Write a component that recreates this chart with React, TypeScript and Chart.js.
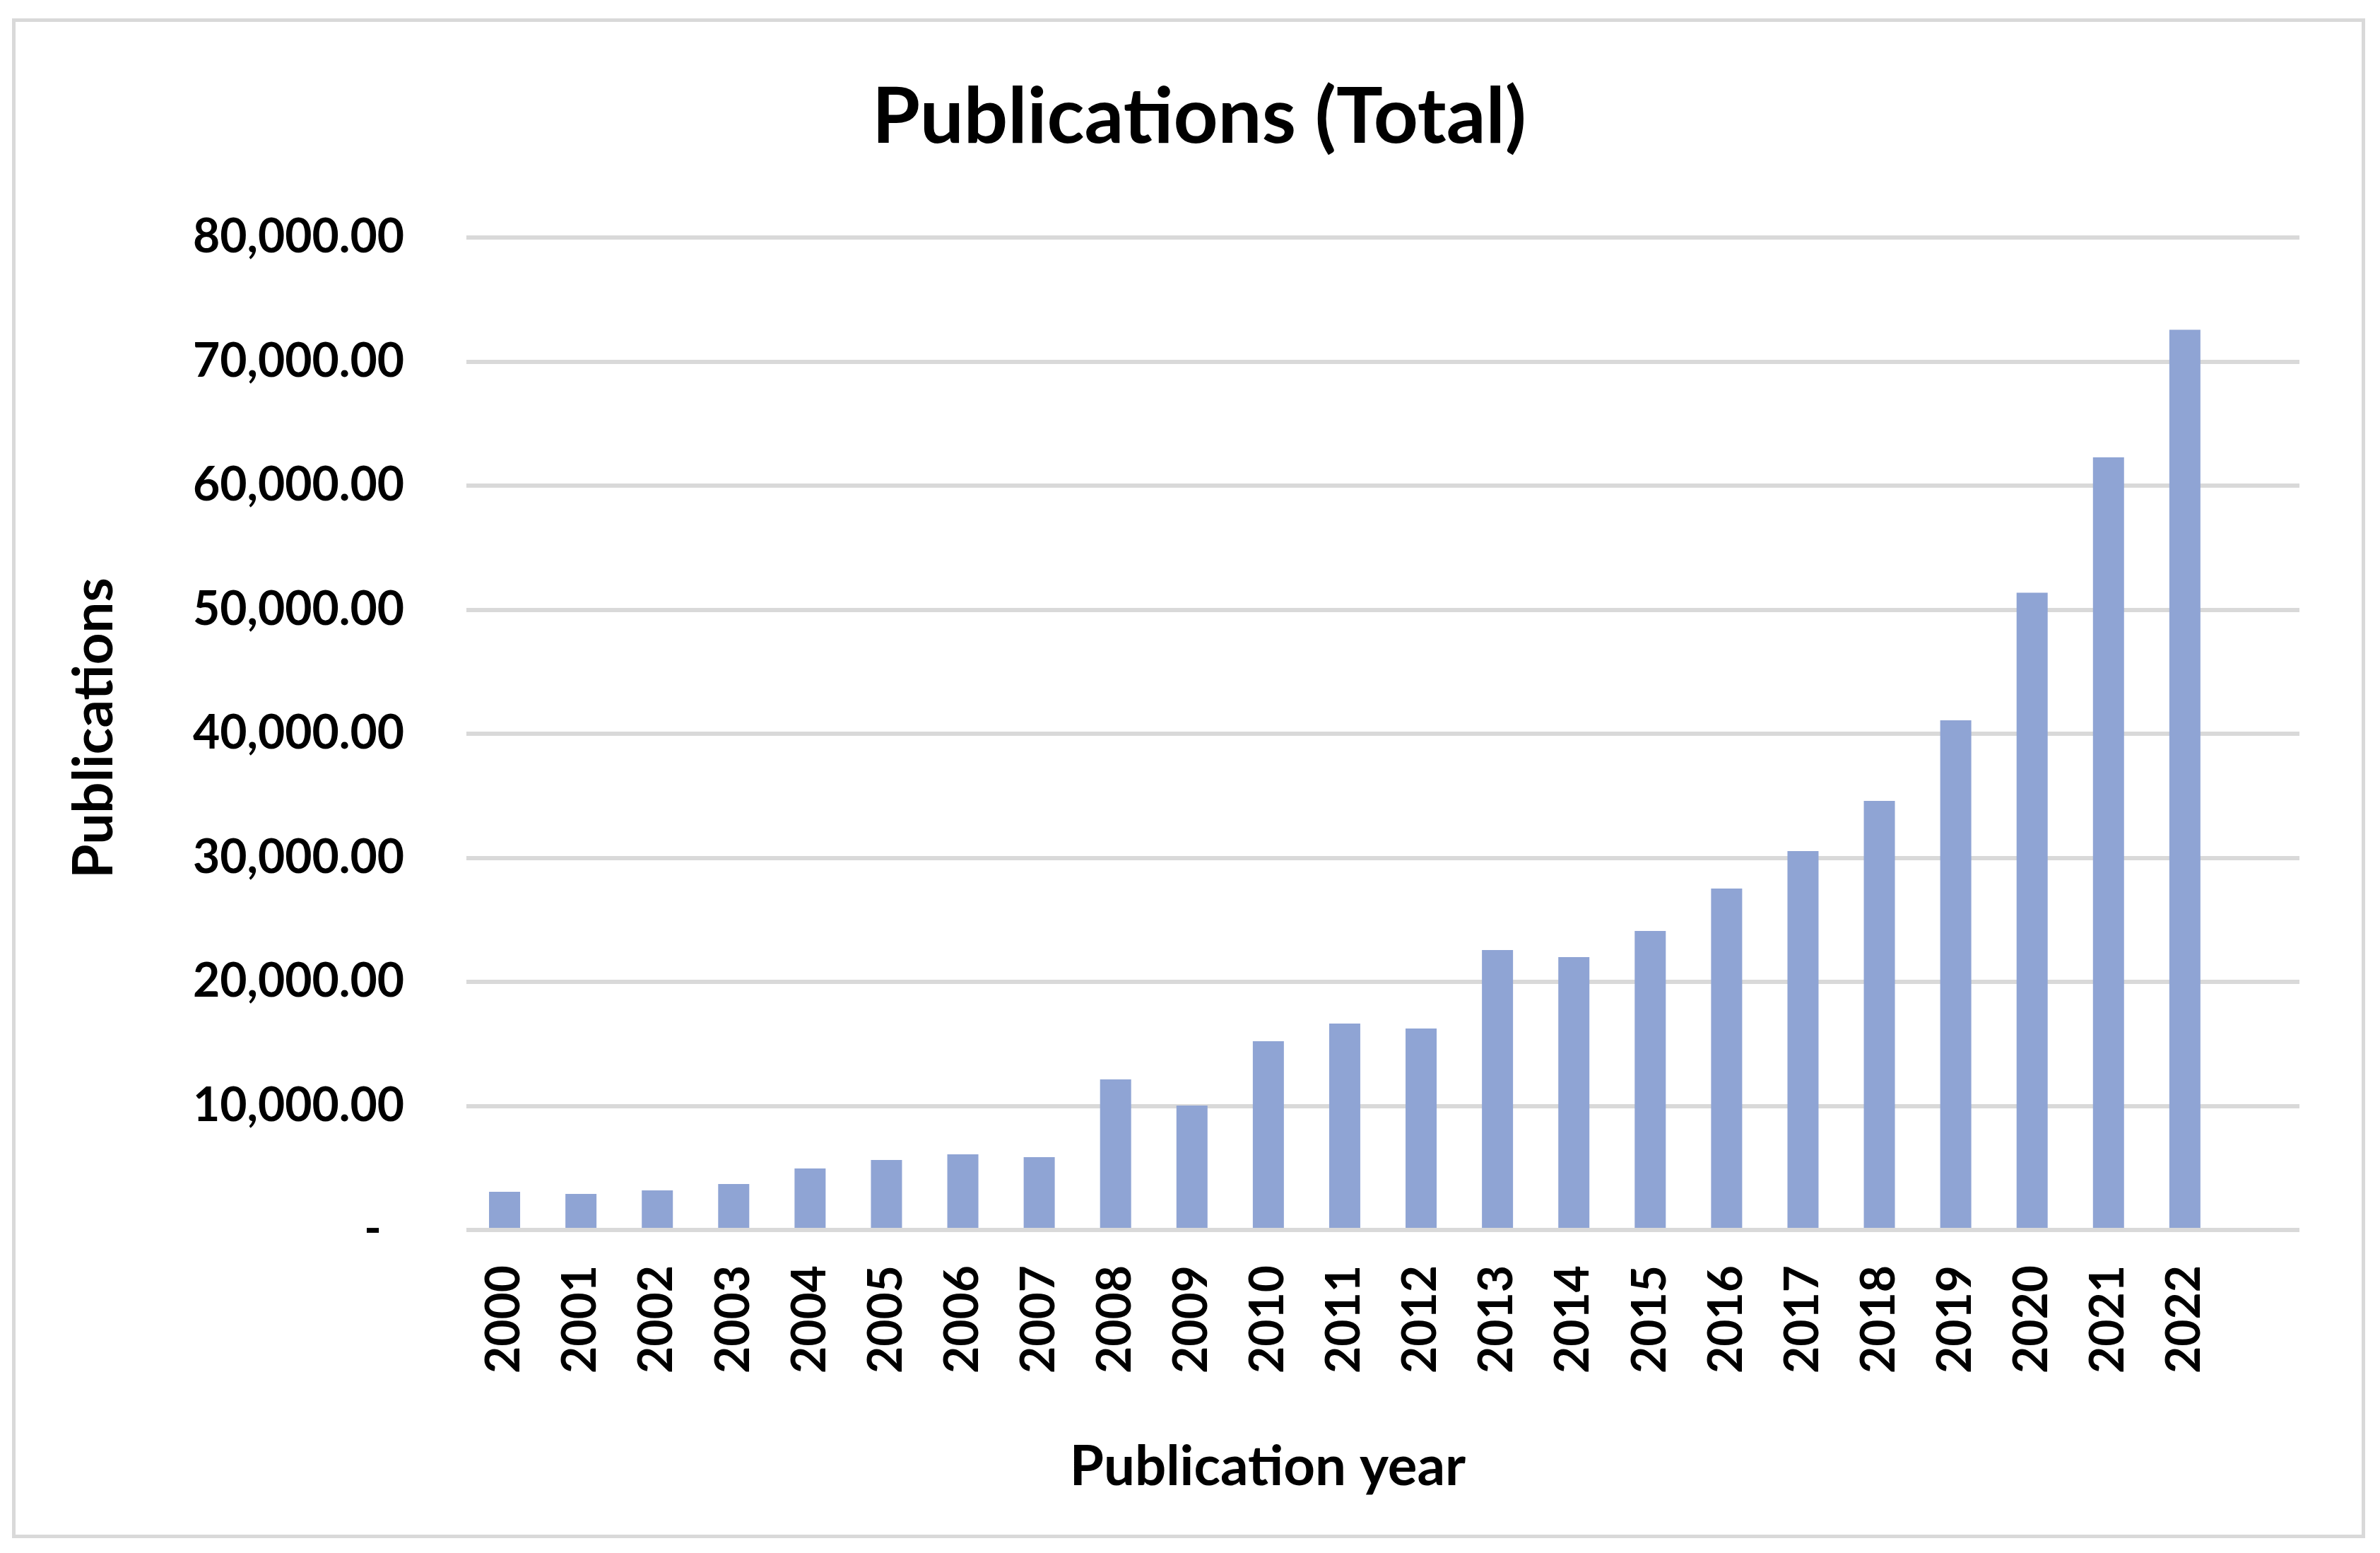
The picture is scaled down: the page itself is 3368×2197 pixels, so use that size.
import React, { useEffect, useRef } from "react";
import { Chart, registerables } from "chart.js";

Chart.register(...registerables);

const years = ["2000","2001","2002","2003","2004","2005","2006","2007","2008","2009","2010","2011","2012","2013","2014","2015","2016","2017","2018","2019","2020","2021","2022",""];
const publications = [3080, 2910, 3190, 3700, 4960, 5640, 6100, 5870, 12140, 10030, 15210, 16640, 16240, 22560, 21990, 24100, 27520, 30540, 34590, 41080, 51370, 62280, 72560, null];
const yTicks = [0, 10000, 20000, 30000, 40000, 50000, 60000, 70000, 80000];
const chartTitle = "Publications (Total)";
const xTitle = "Publication year";
const yTitle = "Publications";

const W = 3368;
const H = 2197;
const FONT = "Lato, 'Open Sans', sans-serif";

const axisTitlePlugin = {
  id: "axisTitles",
  afterDraw(chart: any) {
    const ctx = chart.ctx;
    ctx.save();
    ctx.fillStyle = "#000";
    ctx.font = `bold 78px ${FONT}`;
    ctx.textAlign = "center";
    ctx.textBaseline = "middle";
    ctx.fillText(xTitle, 1794, 2076);
    ctx.translate(134, 1030);
    ctx.rotate(-Math.PI / 2);
    ctx.fillText(yTitle, 0, 0);
    ctx.restore();
  },
};

export default function App() {
  const ref = useRef<HTMLCanvasElement | null>(null);

  useEffect(() => {
    if (!ref.current) return;
    const chart = new Chart(ref.current, {
      type: "bar",
      data: {
        labels: years,
        datasets: [
          {
            label: "Publications",
            data: publications,
            backgroundColor: "#8FA4D4",
            borderWidth: 0,
            categoryPercentage: 1,
            barPercentage: 0.407,
          },
        ],
      },
      options: {
        animation: false,
        responsive: false,
        maintainAspectRatio: false,
        devicePixelRatio: 1,
        layout: { padding: { left: 140, right: 114, top: 0, bottom: 0 } },
        plugins: {
          legend: { display: false },
          tooltip: { enabled: false },
          title: {
            display: true,
            text: chartTitle,
            color: "#000",
            font: { family: FONT, size: 110, weight: "bold" },
            padding: { top: 101, bottom: 103 },
          },
        },
        scales: {
          x: {
            grid: { display: false, drawTicks: false },
            border: { display: false },
            ticks: {
              color: "#000",
              font: { family: FONT, size: 66, weight: "bold" },
              minRotation: 90,
              maxRotation: 90,
              padding: 50,
              autoSkip: false,
            },
            afterFit: (scale: any) => {
              scale.height = H - 1740;
            },
          },
          y: {
            min: 0,
            max: 80000,
            afterBuildTicks: (scale: any) => {
              scale.ticks = yTicks.map((v) => ({ value: v }));
            },
            grid: { color: "#D9D9D9", lineWidth: 6, drawTicks: false },
            border: { display: false },
            ticks: {
              color: "#000",
              font: { family: FONT, size: 66, weight: "bold" },
              padding: 88,
              callback: (v: any) =>
                Number(v) === 0
                  ? "-  "
                  : Number(v).toLocaleString("en-US", { minimumFractionDigits: 2, maximumFractionDigits: 2 }),
            },
            afterFit: (scale: any) => {
              scale.width = 520;
            },
          },
        },
      },
      plugins: [axisTitlePlugin],
    });
    return () => chart.destroy();
  }, []);

  return (
    <div style={{ position: "fixed", left: 0, top: 0, width: W, height: H, background: "#fff" }}>
      <canvas ref={ref} width={W} height={H} style={{ position: "absolute", left: 0, top: 0, width: W, height: H }} />
      <div
        style={{
          position: "absolute",
          left: 17,
          top: 26,
          width: 3330,
          height: 2150,
          boxSizing: "border-box",
          border: "5px solid #D9D9D9",
          pointerEvents: "none",
        }}
      />
    </div>
  );
}
